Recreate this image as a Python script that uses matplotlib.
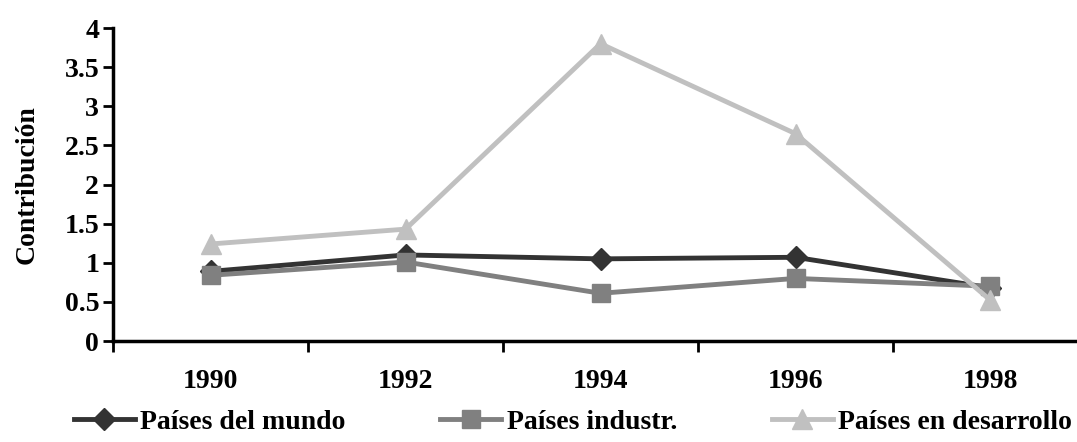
import matplotlib
matplotlib.use("Agg")
import matplotlib.pyplot as plt
import numpy as np

years = ["1990", "1992", "1994", "1996", "1998"]
mundo = [0.89, 1.10, 1.05, 1.07, 0.68]
industr = [0.84, 1.01, 0.61, 0.80, 0.70]
desarrollo = [1.24, 1.43, 3.80, 2.65, 0.52]
yticks = [0, 0.5, 1, 1.5, 2, 2.5, 3, 3.5, 4]
ytick_labels = ["0", "0.5", "1", "1.5", "2", "2.5", "3", "3.5", "4"]

plt.rcParams['font.family'] = ['Liberation Serif', 'DejaVu Serif']
plt.rcParams['font.weight'] = 'bold'

fig = plt.figure(figsize=(10.77, 4.42), dpi=100)
ax = fig.add_axes([0.105, 0.2285, 1.0102 - 0.105, 0.708])

x = np.arange(len(years))
ax.plot(x, mundo, color='#333333', lw=3.5, marker='D', ms=11, label='Países del mundo')
ax.plot(x, industr, color='#808080', lw=3.5, marker='s', ms=13, label='Países industr.')
ax.plot(x, desarrollo, color='#c0c0c0', lw=3.5, marker='^', ms=14, label='Países en desarrollo')

ax.set_xlim(-0.5, len(years) - 0.5)
ax.set_ylim(0, 4)
ax.set_yticks(yticks)
ax.set_yticklabels(ytick_labels, fontsize=20, fontweight='bold')
ax.set_xticks(np.arange(len(years) + 1) - 0.5)
ax.set_xticklabels([])
ax.set_xticks(x, minor=True)
ax.set_xticklabels(years, minor=True, fontsize=20, fontweight='bold')
ax.tick_params(axis='x', which='minor', length=0, pad=20)
ax.tick_params(axis='x', which='major', direction='out', length=8, width=2)
ax.tick_params(axis='y', direction='out', length=7, width=2, pad=3)

for s in ['top', 'right']:
    ax.spines[s].set_visible(False)
for s in ['left', 'bottom']:
    ax.spines[s].set_linewidth(2.5)
    ax.spines[s].set_clip_on(False)

ax.set_ylabel('Contribución', fontsize=20, fontweight='bold', labelpad=18)

fig.legend(loc='center', bbox_to_anchor=(0.532, 1 - 422 / 442), ncol=3, frameon=False,
           prop={'size': 20, 'weight': 'bold'}, handlelength=2.2, handletextpad=0.2,
           columnspacing=3.4, borderpad=0)

fig.savefig('out.png', dpi=100)
